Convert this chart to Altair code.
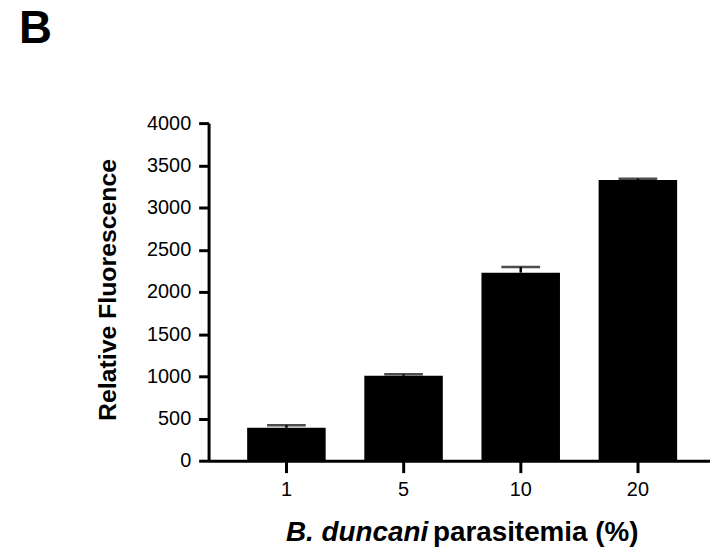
import altair as alt
import pandas as pd

categories = ["1", "5", "10", "20"]
means = [390, 1007, 2228, 3325]
errors = [30, 16, 66, 16]
y_ticks = [0, 500, 1000, 1500, 2000, 2500, 3000, 3500, 4000]

y_title = "Relative Fluorescence"
x_title_italic = "B. duncani"
x_title_rest = "parasitemia (%)"
panel_label = "B"

FONT = "Liberation Sans, Arial, sans-serif"

df = pd.DataFrame({"parasitemia": categories, "mean": means, "err": errors})
df["upper"] = df["mean"] + df["err"]

x_enc = alt.X(
    "parasitemia:N",
    sort=categories,
    scale=alt.Scale(paddingInner=0.33, paddingOuter=0.305, align=0.54),
    axis=alt.Axis(
        title=None, labelAngle=0, labelFontSize=20, labelFont=FONT, labelColor="black",
        tickSize=12, tickWidth=3, tickColor="black", domainWidth=3, domainColor="black",
        labelPadding=7, grid=False,
    ),
)
y_scale = alt.Scale(domain=[0, 4000], nice=False)
y_axis = alt.Axis(
    title=None, values=y_ticks, format="d", labelFontSize=20, labelFont=FONT,
    labelColor="black", tickSize=10, tickWidth=3, tickColor="black", domainWidth=3,
    domainColor="black", labelPadding=8, grid=False,
)

base = alt.Chart(df)
bars = base.mark_bar(color="black").encode(
    x=x_enc, y=alt.Y("mean:Q", scale=y_scale, axis=y_axis)
)
err_line = base.mark_rule(color="black", strokeWidth=2.5).encode(
    x=alt.X("parasitemia:N", sort=categories), y=alt.Y("mean:Q"), y2="upper:Q"
)
err_cap = base.mark_tick(color="black", size=39, thickness=2.5).encode(
    x=alt.X("parasitemia:N", sort=categories), y=alt.Y("upper:Q")
)

one = pd.DataFrame({"k": [0]})
ytitle = alt.Chart(one).mark_text(
    text=y_title, angle=270, font=FONT, fontSize=25, fontWeight="bold",
    align="center", baseline="alphabetic", color="black",
).encode(x=alt.value(-93), y=alt.value(168))
xt1 = alt.Chart(one).mark_text(
    text=x_title_italic, font=FONT, fontSize=28, fontWeight="bold", fontStyle="italic",
    align="left", baseline="alphabetic", color="black",
).encode(x=alt.value(78), y=alt.value(421))
xt2 = alt.Chart(one).mark_text(
    text=x_title_rest, font=FONT, fontSize=28, fontWeight="bold",
    align="left", baseline="alphabetic", color="black",
).encode(x=alt.value(226), y=alt.value(421))
plabel = alt.Chart(one).mark_text(
    text=panel_label, font=FONT, fontSize=46, fontWeight="bold",
    align="left", baseline="alphabetic", color="black",
).encode(x=alt.value(-191), y=alt.value(-81))

chart = alt.layer(bars, err_line, err_cap, ytitle, xt1, xt2, plabel).properties(
    width=505,
    height=340,
    background="white",
    autosize=alt.AutoSizeParams(type="none"),
    padding={"left": 202, "top": 114, "right": 0, "bottom": 88},
).configure_view(stroke=None)

chart.save("out.html", embed_options={"renderer": "svg", "actions": False})
